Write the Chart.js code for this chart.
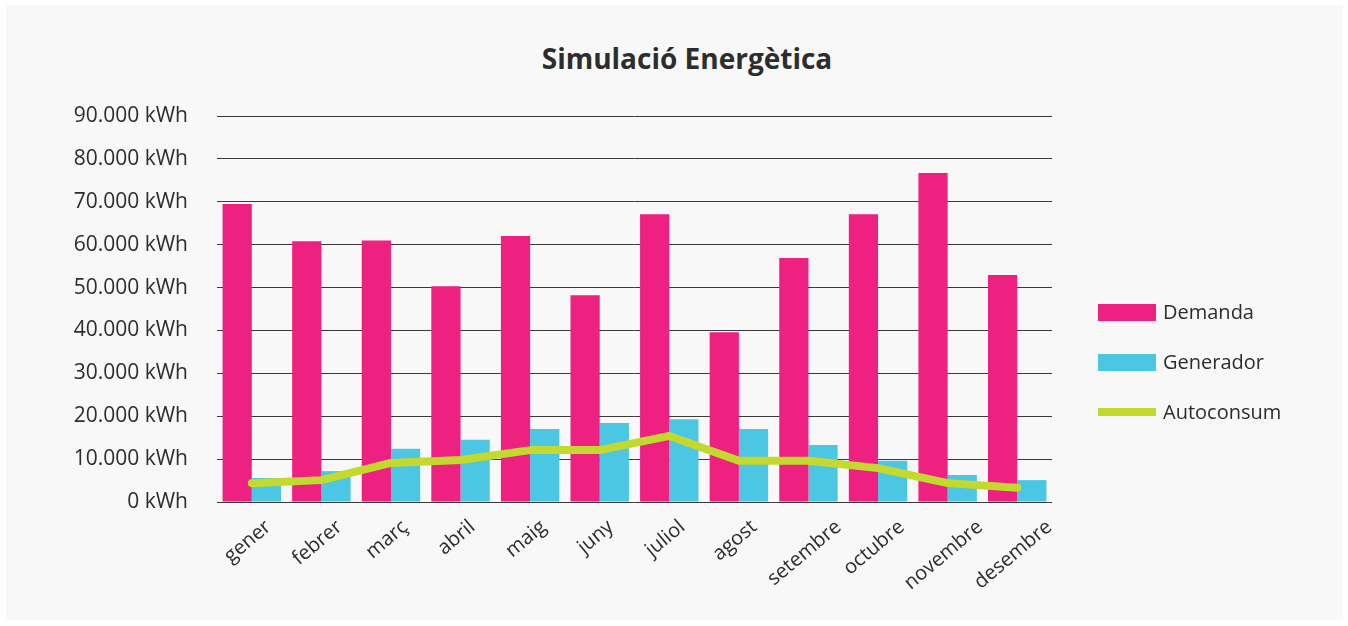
<!DOCTYPE html>
<html>
<head>
<meta charset="utf-8">
<script src="https://cdn.jsdelivr.net/npm/chart.js@4.4.0/dist/chart.umd.min.js"></script>
<style>
  html, body { margin: 0; padding: 0; background: #ffffff; }
  #panel { position: absolute; left: 6px; top: 5px; width: 1337px; height: 615px; background: #f8f8f8; }
  #wrap { position: absolute; left: 0; top: 0; width: 1348px; height: 626px; }
  #title { position: absolute; left: 487px; width: 400px; top: 38px; text-align: center; font-family: 'Open Sans', sans-serif; font-weight: bold; font-size: 28px; line-height: 40px; color: #2d2d2d; }
  .legend { position: absolute; left: 1098px; font-family: 'Open Sans', sans-serif; font-size: 20px; color: #2d2d2d; }
  .legend div { position: absolute; left: 0; height: 30px; white-space: nowrap; }
  .legend span.sw { position: absolute; left: 0; width: 58px; }
  .legend span.tx { position: absolute; left: 65px; top: 0; line-height: 30px; }
</style>
</head>
<body>
<div id="panel"></div>
<div id="title">Simulació Energètica</div>
<div id="wrap"><canvas id="energyChart" width="1348" height="626"></canvas></div>
<div class="legend" id="legend"></div>
<script>
// ── Data ──
const months = ['gener', 'febrer', 'març', 'abril', 'maig', 'juny', 'juliol', 'agost', 'setembre', 'octubre', 'novembre', 'desembre'];
const demanda = [69500, 60800, 61000, 50300, 62000, 48200, 67100, 39600, 56900, 67100, 76700, 52900];
const generador = [5600, 7200, 12400, 14500, 17000, 18400, 19300, 17000, 13300, 9600, 6300, 5100];
const autoconsum = [4400, 5100, 9100, 9800, 12100, 12100, 15400, 9600, 9600, 7900, 4400, 3300];
const yTickLabels = ['0 kWh', '10.000 kWh', '20.000 kWh', '30.000 kWh', '40.000 kWh', '50.000 kWh', '60.000 kWh', '70.000 kWh', '80.000 kWh', '90.000 kWh'];

const colors = {
    pink: '#ee2080',
    cyan: '#4bc6e3',
    lime: '#c3d92f',
    text: '#2d2d2d',
    grid: '#3a3a3a'
};

Chart.defaults.font.family = "'Open Sans', sans-serif";
Chart.defaults.color = colors.text;

// Rotated month labels, centred under each category
const monthLabels = {
    id: 'monthLabels',
    afterDraw(chart) {
        const { ctx, scales: { x } } = chart;
        const angle = 40 * Math.PI / 180;
        ctx.save();
        ctx.font = "20px 'Open Sans', sans-serif";
        ctx.fillStyle = colors.text;
        ctx.textAlign = 'center';
        ctx.textBaseline = 'middle';
        months.forEach((m, i) => {
            const w = ctx.measureText(m).width;
            const cx = x.getPixelForValue(i) - 4;
            const cy = 519 + (w * Math.sin(angle) + 14 * Math.cos(angle)) / 2;
            ctx.save();
            ctx.translate(cx, cy);
            ctx.rotate(-angle);
            ctx.fillText(m, 0, 0);
            ctx.restore();
        });
        ctx.restore();
    }
};

const ctx = document.getElementById('energyChart');
new Chart(ctx, {
    type: 'bar',
    data: {
        labels: months,
        datasets: [
            {
                type: 'line',
                label: 'Autoconsum',
                data: autoconsum,
                borderColor: colors.lime,
                backgroundColor: colors.lime,
                borderWidth: 8,
                borderCapStyle: 'round',
                borderJoinStyle: 'round',
                pointRadius: 0,
                tension: 0,
                order: 0
            },
            {
                label: 'Demanda',
                data: demanda,
                backgroundColor: colors.pink,
                barPercentage: 1,
                categoryPercentage: 0.84,
                order: 1
            },
            {
                label: 'Generador',
                data: generador,
                backgroundColor: colors.cyan,
                barPercentage: 1,
                categoryPercentage: 0.84,
                order: 1
            }
        ]
    },
    options: {
        responsive: false,
        animation: false,
        layout: { padding: { left: 0, right: 296, top: 116, bottom: 0 } },
        plugins: {
            legend: { display: false },
            tooltip: { enabled: false }
        },
        scales: {
            x: {
                grid: { display: false },
                border: { display: false },
                ticks: { display: false },
                afterFit: (scale) => { scale.height = 124; }
            },
            y: {
                min: 0,
                max: 90000,
                border: { display: false },
                grid: { color: colors.grid, lineWidth: 1, drawTicks: false },
                ticks: {
                    stepSize: 10000,
                    font: { size: 21 },
                    color: colors.text,
                    padding: 29,
                    callback: (v) => yTickLabels[Math.round(v / 10000)]
                },
                afterFit: (scale) => { scale.width = 217; }
            }
        }
    },
    plugins: [monthLabels]
});

// ── HTML legend ──
const legendItems = [
    { label: 'Demanda', color: colors.pink, top: 297, swTop: 7, swH: 17 },
    { label: 'Generador', color: colors.cyan, top: 347, swTop: 7, swH: 17 },
    { label: 'Autoconsum', color: colors.lime, top: 397, swTop: 11, swH: 8 }
];
const legend = document.getElementById('legend');
legendItems.forEach(item => {
    const row = document.createElement('div');
    row.style.top = item.top + 'px';
    row.innerHTML = '<span class="sw" style="top:' + item.swTop + 'px;height:' + item.swH + 'px;background:' + item.color + '"></span>' +
        '<span class="tx">' + item.label + '</span>';
    legend.appendChild(row);
});
</script>
</body>
</html>
